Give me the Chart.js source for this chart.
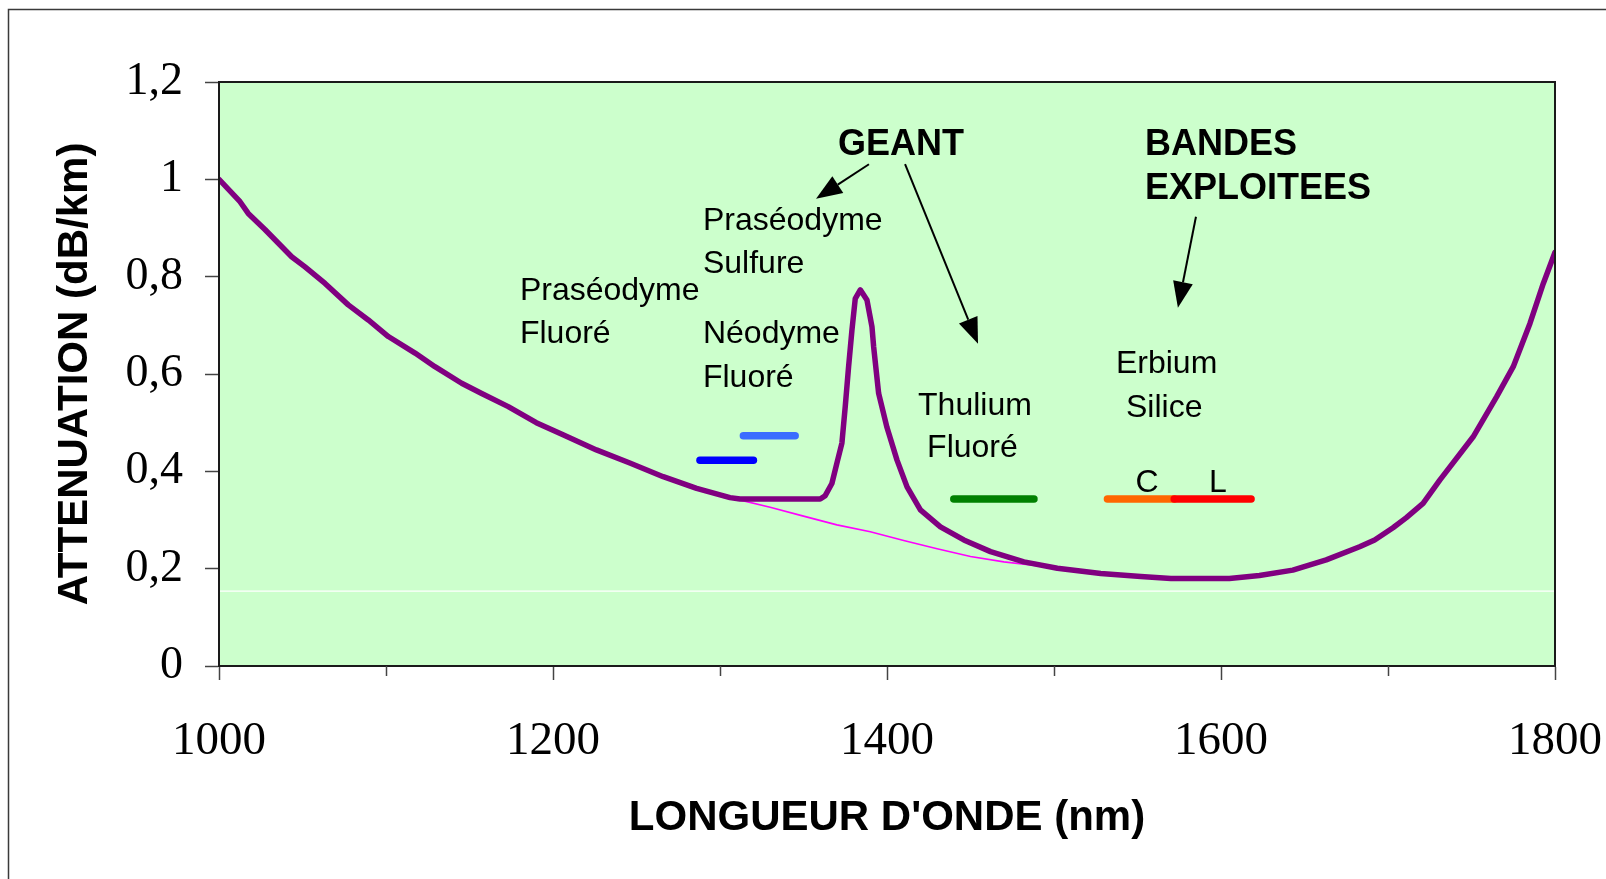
<!DOCTYPE html>
<html>
<head>
<meta charset="utf-8">
<title>Atténuation de la fibre</title>
<script src="https://cdn.jsdelivr.net/npm/chart.js@4.4.1/dist/chart.umd.min.js"></script>
<style>
  html, body { margin: 0; padding: 0; background: #ffffff; }
  #wrap { width: 1606px; height: 879px; position: relative; }
  canvas { display: block; }
</style>
</head>
<body>
<div id="wrap"><canvas id="chart" width="1606" height="879"></canvas></div>
<script>
// Attenuation of silica fibre versus wavelength (nm, dB/km)
const fiberNm = [1000, 1012.6, 1017.5, 1027.5, 1043.5, 1051.5, 1063.5, 1077.4, 1089.4, 1101.4,
  1117.4, 1129.3, 1145.3, 1157.3, 1173.2, 1190, 1206, 1226, 1246, 1266, 1286, 1306, 1312, 1360,
  1363, 1367, 1370, 1373, 1375, 1377, 1379, 1381, 1384, 1388, 1391, 1392, 1395, 1400, 1406, 1412,
  1420, 1432, 1446, 1462, 1482, 1502, 1528, 1552, 1570, 1584, 1605, 1623, 1643, 1663, 1683, 1692,
  1703, 1711, 1721, 1731, 1751, 1765, 1775, 1785, 1793, 1800];
const fiberLoss = [1.000, 0.954, 0.930, 0.897, 0.841, 0.820, 0.786, 0.742, 0.711, 0.677,
  0.643, 0.615, 0.581, 0.560, 0.533, 0.500, 0.475, 0.444, 0.417, 0.389, 0.365, 0.346, 0.343, 0.343,
  0.350, 0.375, 0.417, 0.458, 0.533, 0.615, 0.690, 0.755, 0.773, 0.752, 0.697, 0.656, 0.560, 0.490, 0.423, 0.368,
  0.321, 0.286, 0.259, 0.235, 0.214, 0.201, 0.190, 0.184, 0.180, 0.180, 0.180, 0.186, 0.197, 0.218, 0.245, 0.259,
  0.284, 0.305, 0.334, 0.382, 0.471, 0.553, 0.615, 0.704, 0.786, 0.850];

// Scattering floor under the OH absorption peak
const baseNm = [1306, 1330, 1350, 1370, 1390, 1410, 1430, 1450, 1470, 1490];
const baseLoss = [0.346, 0.326, 0.308, 0.290, 0.276, 0.258, 0.241, 0.225, 0.214, 0.206];

// Amplification bands (start / end wavelength, drawn level)
const bandNames = ['Praséodyme Fluoré', 'Néodyme Fluoré', 'Thulium Fluoré', 'Erbium C', 'Erbium L'];
const bandStart = [1288, 1314, 1440, 1532, 1572];
const bandEnd = [1320, 1345, 1488, 1572, 1618];
const bandLevel = [0.423, 0.473, 0.343, 0.343, 0.343];
const bandColors = ['#0000ff', '#3b6dff', '#008000', '#ff6600', '#ff0000'];

// Faint reference line across the plot
const refLevel = 0.154;

// Axis ticks
const xTickValues = [1000, 1200, 1400, 1600, 1800];
const xTickLabels = ['1000', '1200', '1400', '1600', '1800'];
const xMinorTicks = [1100, 1300, 1500, 1700];
const yTickValues = [0, 0.2, 0.4, 0.6, 0.8, 1, 1.2];
const yTickLabels = ['0', '0,2', '0,4', '0,6', '0,8', '1', '1,2'];

// Text notes placed in data coordinates (nm, dB/km)
const notes = [
  { text: 'GEANT', x: 1370.7, y: 1.050, bold: true },
  { text: 'BANDES', x: 1554.5, y: 1.050, bold: true },
  { text: 'EXPLOITEES', x: 1554.5, y: 0.960, bold: true },
  { text: 'Praséodyme', x: 1289.8, y: 0.896 },
  { text: 'Sulfure', x: 1289.8, y: 0.808 },
  { text: 'Praséodyme', x: 1180.2, y: 0.752 },
  { text: 'Fluoré', x: 1180.2, y: 0.664 },
  { text: 'Néodyme', x: 1289.8, y: 0.664 },
  { text: 'Fluoré', x: 1289.8, y: 0.573 },
  { text: 'Thulium', x: 1418.6, y: 0.516 },
  { text: 'Fluoré', x: 1424.0, y: 0.429 },
  { text: 'Erbium', x: 1537.1, y: 0.602 },
  { text: 'Silice', x: 1543.1, y: 0.512 },
  { text: 'C', x: 1555.7, y: 0.358, center: true },
  { text: 'L', x: 1598.2, y: 0.358, center: true }
];
const arrows = [
  { from: [1389.2, 1.031], to: [1357.5, 0.960] },
  { from: [1410.8, 1.031], to: [1454.5, 0.662] },
  { from: [1585.0, 0.923], to: [1574.2, 0.736] }
];

const SANS = '"Liberation Sans", Arial, Helvetica, sans-serif';
const SERIF = '"Liberation Serif", "Times New Roman", Times, serif';

const pts = (xs, ys) => xs.map((x, i) => ({ x: x, y: ys[i] }));

const datasets = [
  {
    label: 'ref', data: [{ x: 1000, y: refLevel }, { x: 1800, y: refLevel }],
    borderColor: '#ffffff', borderWidth: 1.2, order: 20
  },
  {
    label: 'base', data: pts(baseNm, baseLoss),
    borderColor: '#ff00ff', borderWidth: 1.6, order: 19
  },
  {
    label: 'Atténuation', data: pts(fiberNm, fiberLoss),
    borderColor: '#800080', borderWidth: 5.5, borderJoinStyle: 'round', borderCapStyle: 'round', order: 18
  }
];
bandNames.forEach((name, i) => {
  datasets.push({
    label: name,
    data: [{ x: bandStart[i], y: bandLevel[i] }, { x: bandEnd[i], y: bandLevel[i] }],
    borderColor: bandColors[i], borderWidth: 7.5, borderCapStyle: 'round',
    order: 10 - i
  });
});
datasets.forEach(d => { d.pointRadius = 0; d.pointHoverRadius = 0; d.tension = 0; d.fill = false; });

const framePlugin = {
  id: 'frame',
  beforeDraw(chart) {
    const { ctx, chartArea: a } = chart;
    ctx.save();
    ctx.fillStyle = '#ffffff';
    ctx.fillRect(0, 0, chart.width, chart.height);
    ctx.fillStyle = '#ccffcc';
    ctx.fillRect(a.left, a.top, a.right - a.left, a.bottom - a.top);
    // outer frame of the figure
    ctx.strokeStyle = '#3a3a3a';
    ctx.lineWidth = 1.5;
    ctx.strokeRect(8.5, 9.5, 1700, 1000);
    ctx.restore();
  },
  afterDatasetsDraw(chart) {
    const { ctx, chartArea: a, scales } = chart;
    const xs = scales.x, ys = scales.y;
    ctx.save();
    // plot frame
    ctx.strokeStyle = '#1a1a1a';
    ctx.lineWidth = 2;
    ctx.strokeRect(a.left, a.top, a.right - a.left, a.bottom - a.top);
    // minor ticks on the wavelength axis
    ctx.strokeStyle = '#444444';
    ctx.lineWidth = 1.5;
    xMinorTicks.forEach(v => {
      const px = Math.round(xs.getPixelForValue(v)) + 0.5;
      ctx.beginPath();
      ctx.moveTo(px, a.bottom);
      ctx.lineTo(px, a.bottom + 10);
      ctx.stroke();
    });
    // text notes
    ctx.fillStyle = '#000000';
    ctx.textBaseline = 'alphabetic';
    notes.forEach(n => {
      ctx.font = n.bold ? 'bold 36px ' + SANS : '32px ' + SANS;
      ctx.textAlign = n.center ? 'center' : 'left';
      ctx.fillText(n.text, xs.getPixelForValue(n.x), ys.getPixelForValue(n.y));
    });
    // arrows
    ctx.strokeStyle = '#000000';
    ctx.lineWidth = 2;
    arrows.forEach(ar => {
      const x0 = xs.getPixelForValue(ar.from[0]), y0 = ys.getPixelForValue(ar.from[1]);
      const x1 = xs.getPixelForValue(ar.to[0]), y1 = ys.getPixelForValue(ar.to[1]);
      const ang = Math.atan2(y1 - y0, x1 - x0);
      const hl = 26, hw = 10;
      const bx = x1 - hl * Math.cos(ang), by = y1 - hl * Math.sin(ang);
      ctx.beginPath();
      ctx.moveTo(x0, y0);
      ctx.lineTo(bx, by);
      ctx.stroke();
      ctx.beginPath();
      ctx.moveTo(x1, y1);
      ctx.lineTo(bx + hw * Math.sin(ang), by - hw * Math.cos(ang));
      ctx.lineTo(bx - hw * Math.sin(ang), by + hw * Math.cos(ang));
      ctx.closePath();
      ctx.fill();
    });
    ctx.restore();
  }
};

new Chart(document.getElementById('chart'), {
  type: 'line',
  data: { datasets: datasets },
  options: {
    responsive: false,
    animation: false,
    devicePixelRatio: 1,
    parsing: true,
    layout: { padding: { top: 82, right: 51, left: 0, bottom: 0 } },
    plugins: { legend: { display: false }, tooltip: { enabled: false } },
    scales: {
      x: {
        type: 'linear', position: 'bottom', min: 1000, max: 1800,
        afterBuildTicks(scale) { scale.ticks = xTickValues.map(v => ({ value: v })); },
        afterFit(scale) {
          scale.height = 213;
          scale.paddingLeft = 0;
          scale.paddingRight = 0;
        },
        ticks: {
          autoSkip: false, maxRotation: 0, minRotation: 0, padding: 33, color: '#000000',
          font: { family: SERIF, size: 47 },
          callback: (v, i) => xTickLabels[i]
        },
        grid: { drawOnChartArea: false, drawTicks: true, tickLength: 14, tickColor: '#444444', tickWidth: 1.5 },
        border: { display: true, color: '#1a1a1a', width: 2 },
        title: {
          display: true, text: "LONGUEUR D'ONDE (nm)", color: '#000000',
          font: { family: SANS, size: 42, weight: 'bold' },
          padding: { top: 0, bottom: 35 }
        }
      },
      y: {
        type: 'linear', position: 'left', min: 0, max: 1.2,
        afterBuildTicks(scale) { scale.ticks = yTickValues.map(v => ({ value: v })); },
        afterFit(scale) {
          scale.width = 219;
          scale.paddingTop = 0;
          scale.paddingBottom = 0;
        },
        ticks: {
          autoSkip: false, padding: 22, color: '#000000',
          font: { family: SERIF, size: 46 },
          callback: (v, i) => yTickLabels[i]
        },
        grid: { drawOnChartArea: false, drawTicks: true, tickLength: 14, tickColor: '#444444', tickWidth: 1.5 },
        border: { display: true, color: '#1a1a1a', width: 2 },
        title: {
          display: true, text: 'ATTENUATION (dB/km)', color: '#000000',
          font: { family: SANS, size: 42, weight: 'bold' },
          padding: { top: 50, bottom: 0 }
        }
      }
    }
  },
  plugins: [framePlugin]
});
</script>
</body>
</html>
